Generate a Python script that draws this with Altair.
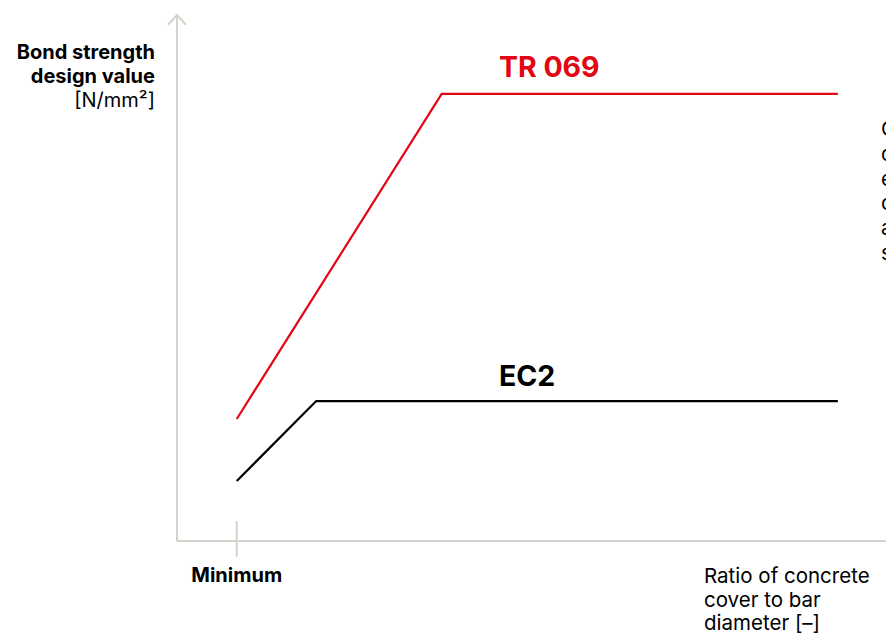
import altair as alt
import pandas as pd

# ---- data (abstract units) ----
ratio_tr = [1.0, 4.43, 11.06]
bond_tr = [2.32, 8.50, 8.50]
ratio_ec = [1.0, 2.33, 11.06]
bond_ec = [1.14, 2.66, 2.66]

series_names = ["TR 069", "EC2"]
series_colors = ["#e30613", "#000000"]
label_x = [6.23, 5.86]
label_y = [8.99, 3.12]

y_title = ["Bond strength", "design value", "[N/mm²]"]
y_title_bold = [True, True, False]
x_title = ["Ratio of concrete", "cover to bar", "diameter [–]"]
side_note = ["Characteristic", "design values", "expressed for", "comparison", "as per", "standards"]

X_MAX = 11.866
Y_MAX = 10.0
AXIS_COL = "#d6d1cb"
FONT = "Inter"

xs = alt.Scale(domain=[0, X_MAX], nice=False, zero=False)
ys = alt.Scale(domain=[0, Y_MAX], nice=False, zero=False)

lines_df = pd.DataFrame(
    {
        "ratio": ratio_tr + ratio_ec,
        "bond": bond_tr + bond_ec,
        "series": [series_names[0]] * len(ratio_tr) + [series_names[1]] * len(ratio_ec),
        "order": list(range(len(ratio_tr))) + list(range(len(ratio_ec))),
    }
)

color = alt.Color("series:N", scale=alt.Scale(domain=series_names, range=series_colors), legend=None)

lines = alt.Chart(lines_df).mark_line(strokeWidth=2.2, strokeJoin="miter").encode(
    x=alt.X("ratio:Q", scale=xs, axis=None),
    y=alt.Y("bond:Q", scale=ys, axis=None),
    color=color,
    detail="series:N",
    order="order:Q",
)

labels_df = pd.DataFrame({"series": series_names, "x": label_x, "y": label_y})
labels = alt.Chart(labels_df).mark_text(
    font=FONT, fontSize=28.5, fontWeight="bold", align="center", baseline="middle"
).encode(
    x=alt.X("x:Q", scale=xs, axis=None),
    y=alt.Y("y:Q", scale=ys, axis=None),
    text="series:N",
    color=color,
)

# axes (drawn as rules with arrowheads)
axes_df = pd.DataFrame({"x": [0, 0], "x2": [0, 12.2], "y": [0, 0], "y2": [Y_MAX, 0]})
axes = alt.Chart(axes_df).mark_rule(color=AXIS_COL, strokeWidth=2).encode(
    x=alt.X("x:Q", scale=xs, axis=None),
    x2="x2:Q",
    y=alt.Y("y:Q", scale=ys, axis=None),
    y2="y2:Q",
)

tick_df = pd.DataFrame({"x": [1.0], "y": [0.38], "y2": [-0.30]})
tick = alt.Chart(tick_df).mark_rule(color=AXIS_COL, strokeWidth=2).encode(
    x=alt.X("x:Q", scale=xs, axis=None),
    y=alt.Y("y:Q", scale=ys, axis=None),
    y2="y2:Q",
)

up_arrow = alt.Chart(pd.DataFrame({"x": [0], "y": [Y_MAX]})).mark_point(
    shape="M -1 1.1 L 0 0 L 1 1.1", size=324, filled=False, color=AXIS_COL, strokeWidth=2, opacity=1
).encode(x=alt.X("x:Q", scale=xs, axis=None), y=alt.Y("y:Q", scale=ys, axis=None))

right_arrow = alt.Chart(pd.DataFrame({"x": [12.2], "y": [0]})).mark_point(
    shape="M -1.1 -1 L 0 0 L -1.1 1", size=324, filled=False, color=AXIS_COL, strokeWidth=2, opacity=1
).encode(x=alt.X("x:Q", scale=xs, axis=None), y=alt.Y("y:Q", scale=ys, axis=None))


def stacked_text(lines_list, weights, x_px, y_first, y_last, align, size):
    df = pd.DataFrame({"t": lines_list, "i": list(range(len(lines_list))), "w": weights})
    sc = alt.Scale(type="point", domain=list(range(len(lines_list))), range=[y_first, y_last], padding=0)
    layers = []
    for w in sorted(set(weights)):
        layers.append(
            alt.Chart(df[df["w"] == w]).mark_text(
                font=FONT, fontSize=size, fontWeight=w, align=align, baseline="middle", color="#000000"
            ).encode(x=alt.value(x_px), y=alt.Y("i:O", scale=sc, axis=None), text="t:N")
        )
    return layers


yt_layers = stacked_text(
    y_title, ["bold" if b else "normal" for b in y_title_bold], -22, 38, 86, "right", 20
)
xt_layers = stacked_text(x_title, ["normal"] * len(x_title), 527, 562, 609, "left", 20.5)
sn_layers = stacked_text(side_note, ["normal"] * len(side_note), 704, 115, 239, "left", 20.5)

minimum = alt.Chart(pd.DataFrame({"x": [1.0], "t": ["Minimum"]})).mark_text(
    font=FONT, fontSize=20, fontWeight="bold", align="center", baseline="middle", color="#000000"
).encode(x=alt.X("x:Q", scale=xs, axis=None), y=alt.value(561), text="t:N")

chart = (
    alt.layer(axes, tick, up_arrow, right_arrow, lines, labels, minimum, *yt_layers, *xt_layers, *sn_layers)
    .resolve_scale(y="independent")
    .properties(
        width=709,
        height=526,
        autosize=alt.AutoSizeParams(type="none"),
        padding={"left": 169, "top": 7, "right": 0, "bottom": 94},
        background="#ffffff",
    )
    .configure_view(stroke=None)
)

chart.save("out.html", embed_options={"renderer": "svg", "actions": False})
